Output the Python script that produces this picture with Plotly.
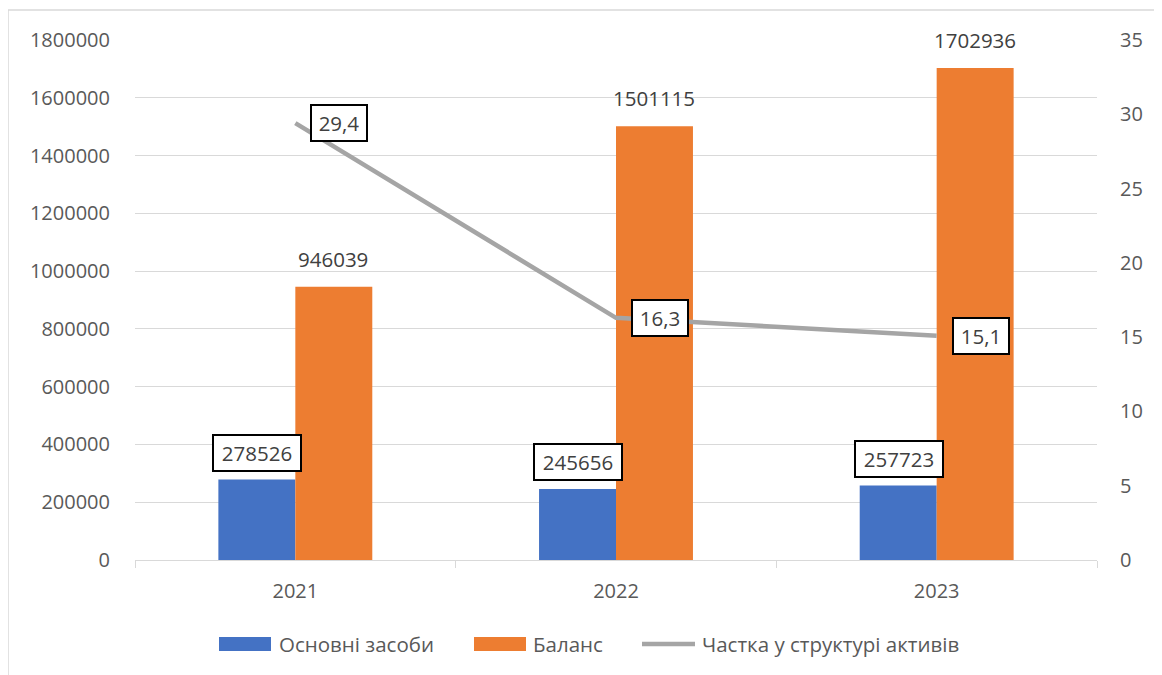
import plotly.graph_objects as go

years = ["2021", "2022", "2023"]
fixed_assets = [278526, 245656, 257723]
balance = [946039, 1501115, 1702936]
share = [29.4, 16.3, 15.1]
share_labels = ["29,4", "16,3", "15,1"]
names = ["Основні засоби", "Баланс", "Частка у структурі активів"]
colors = ["#4472C4", "#ED7D31", "#A5A5A5"]

FONT = "Open Sans"
TXT = "#595959"
LBL = "#404040"
GRID = "#D9D9D9"

# page offset of 8px (body margin) is absorbed in margins; helpers map page px -> paper
def px(xp):
    return (xp - 135) / 962.0

def py(yp):
    return (560 - yp) / 520.0

fig = go.Figure()
fig.add_trace(go.Bar(x=years, y=fixed_assets, name=names[0], showlegend=False,
                     marker=dict(color=colors[0], line=dict(width=0))))
fig.add_trace(go.Bar(x=years, y=balance, name=names[1], showlegend=False,
                     marker=dict(color=colors[1], line=dict(width=0))))
fig.add_trace(go.Scatter(x=years, y=share, name=names[2], showlegend=False,
                         yaxis="y2", mode="lines",
                         line=dict(color=colors[2], width=4.5)))

ann = []
for i, v in enumerate(fixed_assets):
    ann.append(dict(x=i, y=v, xref="x", yref="y", text=str(v), showarrow=False,
                    xshift=-38, yshift=8, yanchor="bottom", xanchor="center",
                    width=80, height=28,
                    bgcolor="white", bordercolor="black", borderwidth=2, borderpad=3,
                    font=dict(family=FONT, size=20.5, color=LBL)))
for i, v in enumerate(balance):
    ann.append(dict(x=i, y=v, xref="x", yref="y", text=str(v), showarrow=False,
                    xshift=38, yshift=12, yanchor="bottom", xanchor="center",
                    font=dict(family=FONT, size=20.5, color=LBL)))
for i, (v, t) in enumerate(zip(share, share_labels)):
    ann.append(dict(x=i, y=v, xref="x", yref="y2", text=t, showarrow=False,
                    xshift=44, yanchor="middle", xanchor="center",
                    width=48, height=28,
                    bgcolor="white", bordercolor="black", borderwidth=2, borderpad=3,
                    font=dict(family=FONT, size=20.5, color=LBL)))

# custom legend
shapes = [dict(type="rect", xref="paper", yref="paper",
               x0=px(8), x1=px(1161), y0=py(690), y1=py(10),
               line=dict(color=GRID, width=1.5), fillcolor="rgba(0,0,0,0)", layer="below")]
leg_y = 644
leg_items = [(219, 271, 277), (474, 526, 531), (642, 695, 700)]
for k, (a, b, tx) in enumerate(leg_items):
    if k < 2:
        shapes.append(dict(type="rect", xref="paper", yref="paper",
                           x0=px(a), x1=px(b), y0=py(651), y1=py(637),
                           line=dict(width=0), fillcolor=colors[k]))
    else:
        shapes.append(dict(type="line", xref="paper", yref="paper",
                           x0=px(a), x1=px(b), y0=py(leg_y), y1=py(leg_y),
                           line=dict(color=colors[k], width=4.5)))
    ann.append(dict(x=px(tx), y=py(leg_y), xref="paper", yref="paper", text=names[k],
                    showarrow=False, xanchor="left", yanchor="middle",
                    font=dict(family=FONT, size=20.5, color=TXT)))

fig.update_layout(
    width=1154, height=667,
    margin=dict(l=127, r=65, t=32, b=115),
    paper_bgcolor="white", plot_bgcolor="white",
    barmode="group", bargap=0.52, bargroupgap=0,
    font=dict(family=FONT, size=20, color=TXT),
    showlegend=False,
    xaxis=dict(type="category", showgrid=False, showline=True, linecolor=GRID, linewidth=1,
               ticks="outside", tickson="boundaries", ticklen=7, tickcolor=GRID,
               tickfont=dict(family=FONT, size=20, color=TXT), ticklabelstandoff=13),
    yaxis=dict(range=[0, 1800000], dtick=200000, showgrid=True, gridcolor=GRID, gridwidth=1.3,
               zeroline=False, showline=False, ticks="", tickformat="d",
               tickfont=dict(family=FONT, size=20, color=TXT), ticklabelstandoff=24),
    yaxis2=dict(range=[0, 35], dtick=5, overlaying="y", side="right", showgrid=False,
                zeroline=False, showline=False, ticks="",
                tickfont=dict(family=FONT, size=20, color=TXT), ticklabelstandoff=22),
    annotations=ann,
    shapes=shapes,
)

fig.write_html("out.html")
